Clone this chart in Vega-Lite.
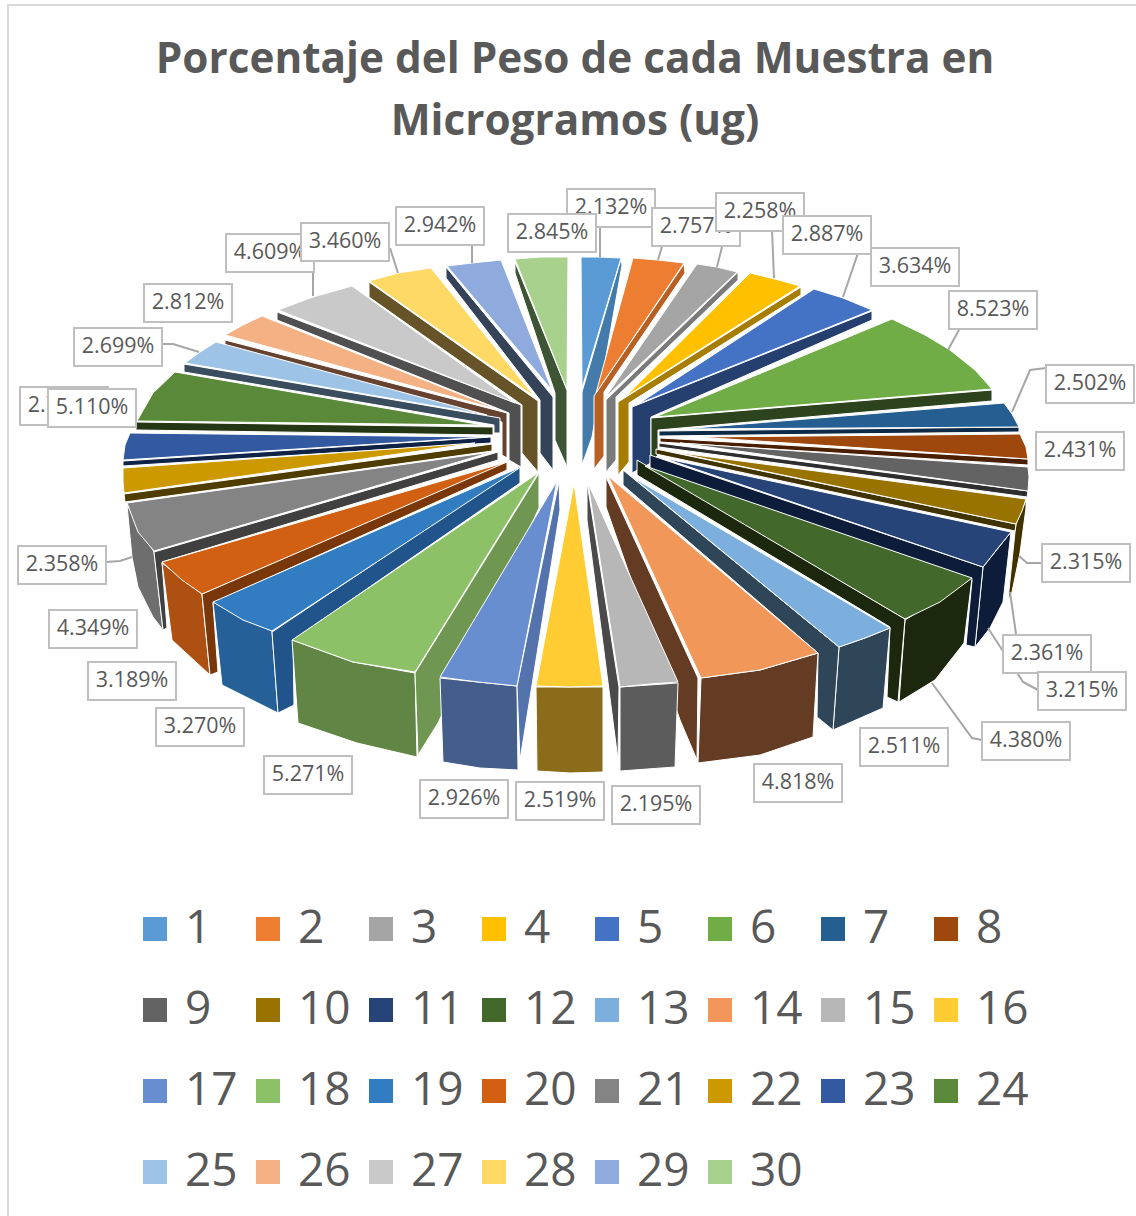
{"$schema":"https://vega.github.io/schema/vega-lite/v6.json","width":1136,"height":1216,"padding":0,"autosize":{"type":"none"},"background":"white","config":{"view":{"stroke":null}},
"title":{"text":["Porcentaje del Peso de cada Muestra en","Microgramos (ug)"],"font":"Open Sans","fontSize":42.3,"fontWeight":"bold","color":"#595959","lineHeight":62,"anchor":"middle","dx":7,"offset":-144},
"projection":{"type":"identity","scale":1,"translate":[0,0]},
"datasets":{
"lados":[
{"type":"Feature","cara":"26r","geometry":{"type":"Polygon","coordinates":[[[225,340],[225,347],[502,422],[502,455],[507,458],[507,413],[225,340]]]}},
{"type":"Feature","cara":"27r","geometry":{"type":"Polygon","coordinates":[[[277,312],[277,320],[509,413],[509,460],[521,467],[521,405],[277,312]]]}},
{"type":"Feature","cara":"28r","geometry":{"type":"Polygon","coordinates":[[[369,282],[369,297],[522,405],[522,453],[538,472],[538,401],[369,282]]]}},
{"type":"Feature","cara":"29r","geometry":{"type":"Polygon","coordinates":[[[446,267],[446,278],[540,400],[540,453],[553,470],[553,397],[446,267]]]}},
{"type":"Feature","cara":"30r","geometry":{"type":"Polygon","coordinates":[[[515,262],[515,273],[555,393],[555,440],[567,467],[567,390],[515,262]]]}},
{"type":"Feature","cara":"1r","geometry":{"type":"Polygon","coordinates":[[[621,259],[622,265],[592,437],[582,465],[582,392],[621,259]]]}},
{"type":"Feature","cara":"2r","geometry":{"type":"Polygon","coordinates":[[[684,264],[685,273],[604,392],[604,456],[594,469],[594,396],[684,264]]]}},
{"type":"Feature","cara":"3r","geometry":{"type":"Polygon","coordinates":[[[738,272],[738,280],[616,397],[616,460],[606,472],[606,400],[738,272]]]}},
{"type":"Feature","cara":"4r","geometry":{"type":"Polygon","coordinates":[[[801,287],[801,295],[629,403],[629,462],[618,475],[618,402],[801,287]]]}},
{"type":"Feature","cara":"5r","geometry":{"type":"Polygon","coordinates":[[[872,311],[872,320],[651,417],[651,463],[632,473],[632,407],[872,311]]]}},
{"type":"Feature","cara":"25r","geometry":{"type":"Polygon","coordinates":[[[184,364],[184,372],[494,425],[494,433],[500,433],[500,418],[184,364]]]}},
{"type":"Feature","cara":"6r","geometry":{"type":"Polygon","coordinates":[[[992,390],[992,401],[658,430],[658,455],[651,462],[651,418],[992,390]]]}},
{"type":"Feature","cara":"24r","geometry":{"type":"Polygon","coordinates":[[[136,422],[136,430],[493,435],[493,427],[136,422]]]}},
{"type":"Feature","cara":"7r","geometry":{"type":"Polygon","coordinates":[[[1019,427],[1019,432],[659,436],[659,431],[1019,427]]]}},
{"type":"Feature","cara":"23r","geometry":{"type":"Polygon","coordinates":[[[123,461],[123,466],[491,443],[491,437],[123,461]]]}},
{"type":"Feature","cara":"8r","geometry":{"type":"Polygon","coordinates":[[[1028,459],[1028,465],[660,442],[660,438],[1028,459]]]}},
{"type":"Feature","cara":"22r","geometry":{"type":"Polygon","coordinates":[[[124,494],[125,502],[492,451],[492,444],[124,494]]]}},
{"type":"Feature","cara":"9r","geometry":{"type":"Polygon","coordinates":[[[1028,491],[1027,497],[659,447],[659,443],[1028,491]]]}},
{"type":"Feature","cara":"10o","geometry":{"type":"Polygon","coordinates":[[[1026,500],[1026,508],[1020,553],[1012,592],[1008,600],[1015,532],[1016,524],[1026,500]]]}},
{"type":"Feature","cara":"10r","geometry":{"type":"Polygon","coordinates":[[[1016,524],[1015,531],[656,454],[656,449],[1016,524]]]}},
{"type":"Feature","cara":"21o","geometry":{"type":"Polygon","coordinates":[[[127,505],[132,557],[138,587],[153,617],[163,630],[154,552],[127,505]]]}},
{"type":"Feature","cara":"21r","geometry":{"type":"Polygon","coordinates":[[[154,552],[163,630],[167,628],[162,562],[498,460],[498,452],[154,552]]]}},
{"type":"Feature","cara":"11o","geometry":{"type":"Polygon","coordinates":[[[1011,532],[983,567],[975,647],[990,628],[1003,602],[1011,532]]]}},
{"type":"Feature","cara":"11r","geometry":{"type":"Polygon","coordinates":[[[650,455],[983,567],[975,647],[966,645],[972,580],[650,470],[650,455]]]}},
{"type":"Feature","cara":"20o","geometry":{"type":"Polygon","coordinates":[[[162,563],[202,594],[210,675],[172,640],[162,563]]]}},
{"type":"Feature","cara":"20r","geometry":{"type":"Polygon","coordinates":[[[507,461],[507,470],[213,603],[218,672],[210,675],[202,594],[507,461]]]}},
{"type":"Feature","cara":"12o","geometry":{"type":"Polygon","coordinates":[[[905,620],[972,578],[964,643],[935,680],[899,702],[905,620]]]}},
{"type":"Feature","cara":"12r","geometry":{"type":"Polygon","coordinates":[[[637,460],[905,619],[898,702],[887,697],[890,627],[637,475],[637,460]]]}},
{"type":"Feature","cara":"19o","geometry":{"type":"Polygon","coordinates":[[[213,602],[272,631],[278,713],[222,685],[213,602]]]}},
{"type":"Feature","cara":"19r","geometry":{"type":"Polygon","coordinates":[[[520,466],[520,483],[293,640],[294,705],[278,713],[272,632],[520,466]]]}},
{"type":"Feature","cara":"13o","geometry":{"type":"Polygon","coordinates":[[[839,647],[865,638],[890,628],[883,708],[833,730],[839,647]]]}},
{"type":"Feature","cara":"13r","geometry":{"type":"Polygon","coordinates":[[[623,470],[623,485],[818,653],[817,717],[833,730],[839,647],[623,470]]]}},
{"type":"Feature","cara":"18o","geometry":{"type":"Polygon","coordinates":[[[292,640],[353,662],[415,673],[417,757],[357,743],[298,723],[292,640]]]}},
{"type":"Feature","cara":"18r","geometry":{"type":"Polygon","coordinates":[[[539,473],[539,508],[438,723],[418,755],[415,673],[539,473]]]}},
{"type":"Feature","cara":"14o","geometry":{"type":"Polygon","coordinates":[[[701,678],[760,670],[818,653],[813,737],[760,755],[698,763],[701,678]]]}},
{"type":"Feature","cara":"14r","geometry":{"type":"Polygon","coordinates":[[[606,477],[606,507],[680,720],[697,760],[698,678],[606,477]]]}},
{"type":"Feature","cara":"17o","geometry":{"type":"Polygon","coordinates":[[[440,678],[478,682],[517,686],[518,770],[480,768],[443,762],[440,678]]]}},
{"type":"Feature","cara":"17r","geometry":{"type":"Polygon","coordinates":[[[559,481],[560,510],[520,760],[517,686],[559,481]]]}},
{"type":"Feature","cara":"15o","geometry":{"type":"Polygon","coordinates":[[[620,687],[678,683],[675,767],[620,771],[620,687]]]}},
{"type":"Feature","cara":"15r","geometry":{"type":"Polygon","coordinates":[[[587,482],[619,687],[618,760],[587,520],[587,482]]]}},
{"type":"Feature","cara":"16o","geometry":{"type":"Polygon","coordinates":[[[536,687],[603,687],[603,772],[570,773],[537,771],[536,687]]]}}
],
"porciones":[
{"type":"Feature","muestra":1,"geometry":{"type":"Polygon","coordinates":[[[582,388],[581,257],[600,257],[621,258],[582,388]]]}},
{"type":"Feature","muestra":2,"geometry":{"type":"Polygon","coordinates":[[[596,393],[633,258],[658,260],[684,263],[596,393]]]}},
{"type":"Feature","muestra":3,"geometry":{"type":"Polygon","coordinates":[[[605,398],[697,264],[717,267],[737,272],[605,398]]]}},
{"type":"Feature","muestra":4,"geometry":{"type":"Polygon","coordinates":[[[625,397],[750,273],[775,279],[800,286],[625,397]]]}},
{"type":"Feature","muestra":5,"geometry":{"type":"Polygon","coordinates":[[[638,404],[814,289],[843,298],[872,310],[638,404]]]}},
{"type":"Feature","muestra":6,"geometry":{"type":"Polygon","coordinates":[[[655,417],[892,319],[925,335],[950,350],[975,370],[992,389],[655,417]]]}},
{"type":"Feature","muestra":7,"geometry":{"type":"Polygon","coordinates":[[[682,429],[1004,403],[1012,414],[1019,427],[682,429]]]}},
{"type":"Feature","muestra":8,"geometry":{"type":"Polygon","coordinates":[[[697,437],[1020,434],[1026,447],[1028,459],[697,437]]]}},
{"type":"Feature","muestra":9,"geometry":{"type":"Polygon","coordinates":[[[680,443],[1028,467],[1029,477],[1028,491],[680,443]]]}},
{"type":"Feature","muestra":10,"geometry":{"type":"Polygon","coordinates":[[[673,452],[1026,499],[1022,511],[1016,524],[673,452]]]}},
{"type":"Feature","muestra":11,"geometry":{"type":"Polygon","coordinates":[[[663,458],[1011,532],[998,548],[983,567],[663,458]]]}},
{"type":"Feature","muestra":12,"geometry":{"type":"Polygon","coordinates":[[[645,466],[972,578],[940,602],[905,619],[645,466]]]}},
{"type":"Feature","muestra":13,"geometry":{"type":"Polygon","coordinates":[[[632,477],[890,628],[865,638],[839,647],[632,477]]]}},
{"type":"Feature","muestra":14,"geometry":{"type":"Polygon","coordinates":[[[608,476],[818,653],[760,670],[701,678],[608,476]]]}},
{"type":"Feature","muestra":15,"geometry":{"type":"Polygon","coordinates":[[[588,483],[678,682],[650,684],[620,687],[588,483]]]}},
{"type":"Feature","muestra":16,"geometry":{"type":"Polygon","coordinates":[[[574,483],[603,686],[570,687],[536,686],[574,483]]]}},
{"type":"Feature","muestra":17,"geometry":{"type":"Polygon","coordinates":[[[557,481],[517,686],[478,682],[440,677],[557,481]]]}},
{"type":"Feature","muestra":18,"geometry":{"type":"Polygon","coordinates":[[[538,473],[415,672],[353,662],[292,640],[538,473]]]}},
{"type":"Feature","muestra":19,"geometry":{"type":"Polygon","coordinates":[[[521,467],[272,631],[243,620],[213,602],[521,467]]]}},
{"type":"Feature","muestra":20,"geometry":{"type":"Polygon","coordinates":[[[507,462],[202,594],[182,580],[162,562],[507,462]]]}},
{"type":"Feature","muestra":21,"geometry":{"type":"Polygon","coordinates":[[[492,452],[154,551],[138,532],[127,503],[492,452]]]}},
{"type":"Feature","muestra":22,"geometry":{"type":"Polygon","coordinates":[[[475,443],[124,493],[123,482],[123,468],[475,443]]]}},
{"type":"Feature","muestra":23,"geometry":{"type":"Polygon","coordinates":[[[487,437],[123,460],[125,445],[130,433],[487,437]]]}},
{"type":"Feature","muestra":24,"geometry":{"type":"Polygon","coordinates":[[[483,425],[137,421],[153,393],[175,372],[483,425]]]}},
{"type":"Feature","muestra":25,"geometry":{"type":"Polygon","coordinates":[[[487,415],[185,363],[200,352],[216,342],[487,415]]]}},
{"type":"Feature","muestra":26,"geometry":{"type":"Polygon","coordinates":[[[500,410],[225,335],[243,325],[262,316],[500,410]]]}},
{"type":"Feature","muestra":27,"geometry":{"type":"Polygon","coordinates":[[[515,403],[278,310],[313,297],[352,286],[515,403]]]}},
{"type":"Feature","muestra":28,"geometry":{"type":"Polygon","coordinates":[[[535,397],[369,281],[398,273],[431,268],[535,397]]]}},
{"type":"Feature","muestra":29,"geometry":{"type":"Polygon","coordinates":[[[552,390],[447,266],[472,263],[501,260],[552,390]]]}},
{"type":"Feature","muestra":30,"geometry":{"type":"Polygon","coordinates":[[[567,390],[515,259],[540,257],[568,257],[567,390]]]}}
],
"guias":[
{"type":"Feature","muestra":1,"geometry":{"type":"LineString","coordinates":[[600,228],[600,257]]}},
{"type":"Feature","muestra":2,"geometry":{"type":"LineString","coordinates":[[663,243],[658,260]]}},
{"type":"Feature","muestra":3,"geometry":{"type":"LineString","coordinates":[[723,243],[717,267]]}},
{"type":"Feature","muestra":4,"geometry":{"type":"LineString","coordinates":[[772,230],[774,278]]}},
{"type":"Feature","muestra":5,"geometry":{"type":"LineString","coordinates":[[858,253],[843,297]]}},
{"type":"Feature","muestra":6,"geometry":{"type":"LineString","coordinates":[[960,328],[948,350]]}},
{"type":"Feature","muestra":7,"geometry":{"type":"LineString","coordinates":[[1046,368],[1030,370],[1012,412]]}},
{"type":"Feature","muestra":9,"geometry":{"type":"LineString","coordinates":[[1042,563],[1027,563],[1019,556]]}},
{"type":"Feature","muestra":10,"geometry":{"type":"LineString","coordinates":[[1010,592],[1016,634]]}},
{"type":"Feature","muestra":11,"geometry":{"type":"LineString","coordinates":[[988,628],[1023,682],[1038,690]]}},
{"type":"Feature","muestra":12,"geometry":{"type":"LineString","coordinates":[[932,683],[972,738],[982,740]]}},
{"type":"Feature","muestra":22,"geometry":{"type":"LineString","coordinates":[[106,562],[120,561],[132,557]]}},
{"type":"Feature","muestra":25,"geometry":{"type":"LineString","coordinates":[[163,344],[173,344],[199,352]]}},
{"type":"Feature","muestra":27,"geometry":{"type":"LineString","coordinates":[[298,271],[313,271],[313,296]]}},
{"type":"Feature","muestra":28,"geometry":{"type":"LineString","coordinates":[[390,248],[398,273]]}},
{"type":"Feature","muestra":29,"geometry":{"type":"LineString","coordinates":[[472,243],[472,263]]}}
],
"marco":[{"type":"Feature","geometry":{"type":"LineString","coordinates":[[8,1216],[8,5],[1136,5]]}}],
"etiquetas":[
{"muestra":1,"porcentaje":0.02132,"lon":611,"lat":208},
{"muestra":2,"porcentaje":0.02757,"lon":696,"lat":227},
{"muestra":3,"porcentaje":0.02258,"lon":760,"lat":212},
{"muestra":4,"porcentaje":0.02887,"lon":827,"lat":235},
{"muestra":5,"porcentaje":0.03634,"lon":915,"lat":267},
{"muestra":6,"porcentaje":0.08523,"lon":993,"lat":310},
{"muestra":7,"porcentaje":0.02502,"lon":1090,"lat":384},
{"muestra":8,"porcentaje":0.02431,"lon":1080,"lat":451},
{"muestra":9,"porcentaje":0.02315,"lon":1086,"lat":563},
{"muestra":10,"porcentaje":0.02361,"lon":1047,"lat":654},
{"muestra":11,"porcentaje":0.03215,"lon":1082,"lat":691},
{"muestra":12,"porcentaje":0.0438,"lon":1026,"lat":741},
{"muestra":13,"porcentaje":0.02511,"lon":904,"lat":747},
{"muestra":14,"porcentaje":0.04818,"lon":798,"lat":783},
{"muestra":15,"porcentaje":0.02195,"lon":656,"lat":805},
{"muestra":16,"porcentaje":0.02519,"lon":560,"lat":801},
{"muestra":17,"porcentaje":0.02926,"lon":464,"lat":799},
{"muestra":18,"porcentaje":0.05271,"lon":308,"lat":775},
{"muestra":19,"porcentaje":0.0327,"lon":200,"lat":727},
{"muestra":20,"porcentaje":0.03189,"lon":132,"lat":681},
{"muestra":21,"porcentaje":0.04349,"lon":93,"lat":629},
{"muestra":22,"porcentaje":0.02358,"lon":62,"lat":565},
{"muestra":23,"porcentaje":0.02722,"lon":64,"lat":406},
{"muestra":24,"porcentaje":0.0511,"lon":92,"lat":408},
{"muestra":25,"porcentaje":0.02699,"lon":118,"lat":347},
{"muestra":26,"porcentaje":0.02812,"lon":188,"lat":303},
{"muestra":27,"porcentaje":0.04609,"lon":270,"lat":253},
{"muestra":28,"porcentaje":0.0346,"lon":345,"lat":242},
{"muestra":29,"porcentaje":0.02942,"lon":440,"lat":226},
{"muestra":30,"porcentaje":0.02845,"lon":552,"lat":233}
]},
"layer":[
{"data":{"name":"marco"},"mark":{"type":"geoshape","filled":false,"stroke":"#d9d9d9","strokeWidth":2}},
{"data":{"name":"lados"},"mark":{"type":"geoshape","stroke":"white","strokeWidth":1},
 "encoding":{"color":{"field":"cara","type":"nominal","legend":null,"scale":{
 "domain":["26r","27r","28r","29r","30r","1r","2r","3r","4r","5r","25r","6r","24r","7r","23r","8r","22r","9r","21r","21o","10r","10o","11r","11o","20r","20o","12r","12o","19r","19o","13r","13o","18r","18o","14r","14o","17r","17o","15r","15o","16o"],
 "range":["#664331","#505050","#665428","#354359","#3E5535","#447BAA","#B86024","#7A7A7A","#A67D00","#253F6E","#3A4D5E","#2C431D","#243613","#0D2A47","#0F2347","#4A1F00","#4F3D00","#2E2E2E","#404040","#6E6E6E","#413300","#413300","#0D1C38","#0D1C38","#7A370A","#AD5011","#1B280D","#1B280D","#20548A","#266099","#2F4558","#2F4558","#6F9752","#618545","#633C23","#633C23","#5473AC","#455D8A","#4A4A4A","#5C5C5C","#8A6C1A"]}}}},
{"data":{"name":"porciones"},"mark":{"type":"geoshape","stroke":"white","strokeWidth":1},
 "encoding":{"color":{"field":"muestra","type":"nominal","scale":{
 "domain":[1,2,3,4,5,6,7,8,9,10,11,12,13,14,15,16,17,18,19,20,21,22,23,24,25,26,27,28,29,30],
 "range":["#5B9BD5","#ED7D31","#A5A5A5","#FFC000","#4472C4","#70AD47","#255E91","#9E480E","#636363","#997300","#264478","#43682B","#7CAFDD","#F1975A","#B7B7B7","#FFCD33","#698ED0","#8CC168","#327DC2","#D26012","#848484","#CC9A00","#335AA1","#5A8A39","#9DC3E6","#F4B183","#C9C9C9","#FFD966","#8FAADC","#A9D18E"]},
 "legend":{"title":null,"orient":"none","legendX":132,"legendY":906,"direction":"horizontal","columns":8,"symbolType":"square","symbolSize":576,"symbolStrokeWidth":0,"labelFont":"Open Sans","labelFontSize":46,"labelColor":"#595959","labelOffset":7,"columnPadding":7,"rowPadding":35,"padding":0}}}},
{"data":{"name":"guias"},"mark":{"type":"geoshape","filled":false,"stroke":"#a6a6a6","strokeWidth":2}},
{"data":{"name":"etiquetas"},"transform":[{"filter":{"field":"muestra","oneOf":[1,2,10,23,27]}}],"mark":{"type":"point","shape":"M-1,-0.43H1V0.43H-1Z","size":7744,"filled":true,"fill":"white","stroke":"#bfbfbf","strokeWidth":2,"opacity":1},"encoding":{"longitude":{"field":"lon","type":"quantitative"},"latitude":{"field":"lat","type":"quantitative"}}},
{"data":{"name":"etiquetas"},"transform":[{"filter":{"field":"muestra","oneOf":[1,2,10,23,27]}}],"mark":{"type":"text","font":"Open Sans","fontSize":21.5,"color":"#595959","align":"center","baseline":"middle"},"encoding":{"longitude":{"field":"lon","type":"quantitative"},"latitude":{"field":"lat","type":"quantitative"},"text":{"field":"porcentaje","type":"quantitative","format":".3%"}}},
{"data":{"name":"etiquetas"},"transform":[{"filter":{"field":"muestra","oneOf":[3,11,24,28]}}],"mark":{"type":"point","shape":"M-1,-0.43H1V0.43H-1Z","size":7744,"filled":true,"fill":"white","stroke":"#bfbfbf","strokeWidth":2,"opacity":1},"encoding":{"longitude":{"field":"lon","type":"quantitative"},"latitude":{"field":"lat","type":"quantitative"}}},
{"data":{"name":"etiquetas"},"transform":[{"filter":{"field":"muestra","oneOf":[3,11,24,28]}}],"mark":{"type":"text","font":"Open Sans","fontSize":21.5,"color":"#595959","align":"center","baseline":"middle"},"encoding":{"longitude":{"field":"lon","type":"quantitative"},"latitude":{"field":"lat","type":"quantitative"},"text":{"field":"porcentaje","type":"quantitative","format":".3%"}}},
{"data":{"name":"etiquetas"},"transform":[{"filter":{"not":{"field":"muestra","oneOf":[1,2,10,23,27,3,11,24,28]}}}],"mark":{"type":"point","shape":"M-1,-0.43H1V0.43H-1Z","size":7744,"filled":true,"fill":"white","stroke":"#bfbfbf","strokeWidth":2,"opacity":1},"encoding":{"longitude":{"field":"lon","type":"quantitative"},"latitude":{"field":"lat","type":"quantitative"}}},
{"data":{"name":"etiquetas"},"transform":[{"filter":{"not":{"field":"muestra","oneOf":[1,2,10,23,27,3,11,24,28]}}}],"mark":{"type":"text","font":"Open Sans","fontSize":21.5,"color":"#595959","align":"center","baseline":"middle"},"encoding":{"longitude":{"field":"lon","type":"quantitative"},"latitude":{"field":"lat","type":"quantitative"},"text":{"field":"porcentaje","type":"quantitative","format":".3%"}}}
],
"resolve":{"scale":{"color":"independent"}}
}
